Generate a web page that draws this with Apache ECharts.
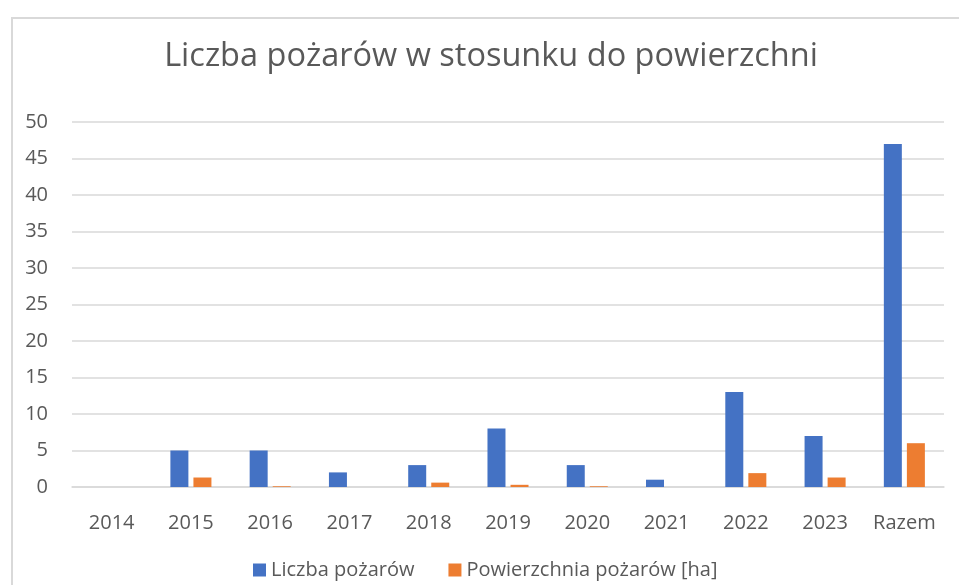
<!DOCTYPE html>
<html>
<head>
<meta charset="utf-8">
<script src="https://cdn.jsdelivr.net/npm/echarts@6/dist/echarts.min.js"></script>
<style>
  html, body { margin: 0; padding: 0; background: #fff; }
  #wrap { position: relative; width: 959px; height: 585px; overflow: hidden; }
  #frame { position: absolute; left: 11px; top: 17px; width: 1000px; height: 600px;
    border-left: 2px solid #d9d9d9; border-top: 2px solid #d9d9d9; box-sizing: border-box; }
  #chart { position: absolute; left: 0; top: 0; width: 959px; height: 585px; }
</style>
</head>
<body>
<div id="wrap">
  <div id="frame"></div>
  <div id="chart"></div>
</div>
<script>
var categories = ['2014', '2015', '2016', '2017', '2018', '2019', '2020', '2021', '2022', '2023', 'Razem'];
var liczba = [0, 5, 5, 2, 3, 8, 3, 1, 13, 7, 47];
var powierzchnia = [0, 1.3, 0.1, 0, 0.6, 0.3, 0.1, 0, 1.9, 1.3, 6];
var seriesNames = ['Liczba pożarów', 'Powierzchnia pożarów [ha]'];
var titleText = 'Liczba pożarów w stosunku do powierzchni';

var font = 'Open Sans';
var chart = echarts.init(document.getElementById('chart'));
chart.setOption({
  animation: false,
  graphic: [{
    type: 'text',
    x: 491,
    y: 57,
    style: {
      text: titleText,
      fill: '#595959',
      font: '32.5px "Open Sans"',
      align: 'center',
      verticalAlign: 'middle'
    }
  }],
  legend: {
    top: 555,
    left: 248,
    itemWidth: 13,
    itemHeight: 13,
    itemGap: 34,
    icon: 'rect',
    textStyle: { color: '#595959', fontSize: 20, fontFamily: font },
    data: seriesNames
  },
  grid: { left: 72, right: 15, top: 122, bottom: 98 },
  xAxis: {
    type: 'category',
    data: categories,
    axisTick: { show: false },
    axisLine: { lineStyle: { color: '#d9d9d9', width: 1.5 } },
    axisLabel: { color: '#595959', fontSize: 20, fontFamily: font, margin: 26, interval: 0 }
  },
  yAxis: {
    type: 'value',
    min: 0,
    max: 50,
    interval: 5,
    axisLine: { show: false },
    axisTick: { show: false },
    axisLabel: { color: '#595959', fontSize: 20, fontFamily: font, margin: 24 },
    splitLine: { lineStyle: { color: '#d9d9d9', width: 1.5 } }
  },
  series: [
    {
      name: seriesNames[0], type: 'bar', data: liczba,
      barWidth: 18, barGap: '28%',
      itemStyle: { color: '#4472c4' }
    },
    {
      name: seriesNames[1], type: 'bar', data: powierzchnia,
      barWidth: 18,
      itemStyle: { color: '#ed7d31' }
    }
  ]
});
</script>
</body>
</html>
